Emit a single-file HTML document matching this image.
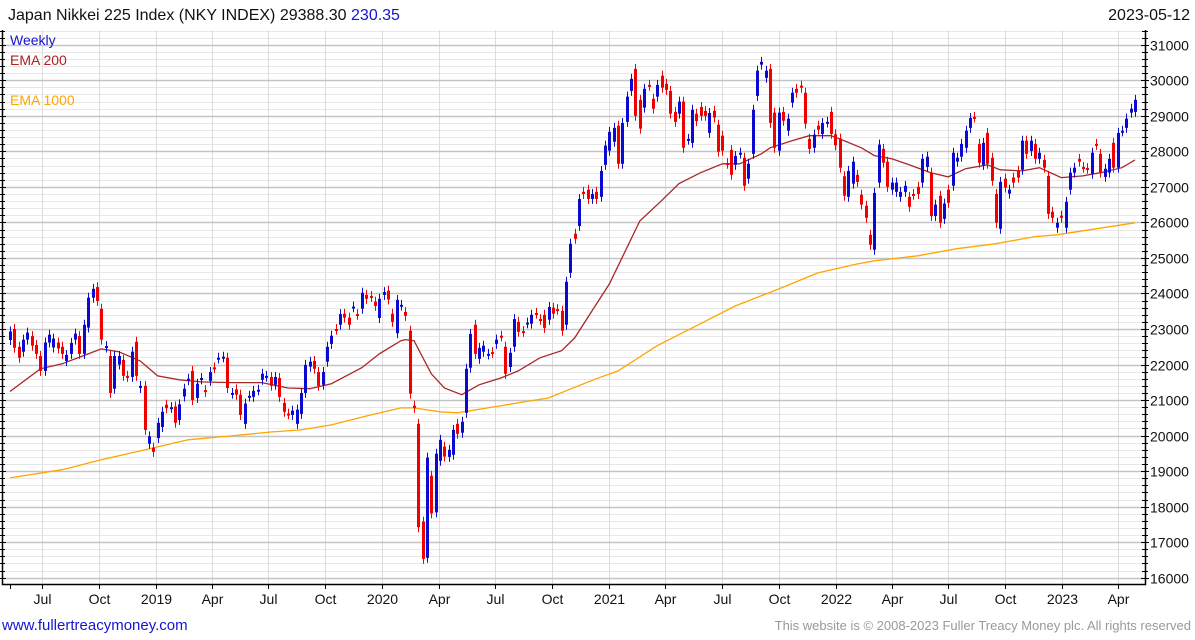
<!DOCTYPE html>
<html><head><meta charset="utf-8"><style>
html,body{margin:0;padding:0;background:#fff;}
body{width:1195px;height:640px;overflow:hidden;font-family:"Liberation Sans","DejaVu Sans",sans-serif;}
svg{display:block}
</style></head><body>
<svg id="chart" width="1195" height="640" viewBox="0 0 1195 640" xmlns="http://www.w3.org/2000/svg">
<rect x="0" y="0" width="1195" height="640" fill="#fff"/>
<g id="grid"></g>
<g id="emas"></g>
<g id="candles"></g>
<g id="axes"></g>
<text x="8" y="20" font-size="16" fill="#111">Japan Nikkei 225 Index (NKY INDEX) 29388.30 <tspan fill="#1515d0">230.35</tspan></text>
<text x="1190" y="20" font-size="16" fill="#111" text-anchor="end">2023-05-12</text>
<text x="10" y="45" font-size="14" fill="#1515d0">Weekly</text>
<text x="10" y="65" font-size="14" fill="#aa2222">EMA 200</text>
<text x="10" y="105" font-size="14" fill="#ffa500">EMA 1000</text>
<text x="2" y="630" font-size="15" fill="#1515d0">www.fullertreacymoney.com</text>
<text x="1191" y="630" font-size="13" fill="#999" text-anchor="end">This website is © 2008-2023 Fuller Treacy Money plc. All rights reserved</text>
</svg>
<script>
const opens=[22690,23000,22500,22360,22700,22800,22550,22240,21820,22620,22480,22620,22500,22100,22300,22700,22800,22300,23040,23880,24180,23570,22480,22240,21320,22000,22130,21680,21650,22640,21340,21400,19770,19660,19930,20240,20870,20780,20820,20440,21100,21560,21820,21060,21580,21280,21540,21920,22170,22200,22190,21180,21300,21150,20330,21100,21090,21270,21570,21660,21650,21430,21620,20920,20620,20580,20330,20610,21200,21940,22100,21790,21430,22080,22580,23000,23120,23430,23320,23610,23420,23570,23960,23930,23770,23310,23960,24080,23430,22880,23660,23480,22950,20840,20330,17580,16560,18870,17840,19290,19690,19400,19460,20330,20080,20640,21910,23120,22160,22360,22280,22350,22580,22810,22500,21930,22500,23200,22940,23160,23150,23450,23280,23400,23260,23600,23560,23510,23120,24580,25680,25900,26860,26920,26660,26860,26720,27620,28020,28270,28720,27650,28830,29700,30320,29450,29230,29870,29480,29540,30130,29900,29700,29110,29060,29400,28330,28240,29060,29250,29140,28520,29140,28750,28440,27670,28040,27620,27940,27820,27230,27930,29560,30440,30070,30320,29090,28020,29110,28580,29370,29760,29850,29650,28350,28100,28720,28490,28810,29110,28480,28360,27300,26720,27090,27340,26780,26470,25650,25230,27120,28070,27710,26920,26860,26720,26860,26720,26800,27000,27120,27560,27400,26180,26750,26100,26920,27030,27710,27850,28100,28660,28970,28210,27620,28520,27820,26800,25820,27230,26810,27260,27450,27480,28300,28010,28210,27790,27760,27310,26300,25850,26190,25850,26920,27400,27790,27560,27530,27370,28210,27930,27280,27400,28240,27540,28560,28660,29090,29110];
const closes=[22930,22470,22190,22700,22900,22530,22300,21820,22620,22840,22730,22450,22300,22270,22610,22870,22300,23120,23880,24130,23790,22700,22520,21200,22240,22240,21680,21650,22360,21680,21400,20160,19980,19540,20360,20670,20770,20800,20360,20880,21320,21600,21000,21460,21620,21230,21790,21900,22190,22220,21340,21200,21150,20580,20900,21120,21260,21290,21740,21680,21400,21650,21090,20670,20600,20700,20730,21200,21990,22080,21880,21400,21790,22500,22810,22980,23420,23320,23120,23630,23400,24020,23850,23900,23650,23850,24040,23830,23200,23820,23680,23370,21180,20780,17420,16530,19380,17810,19490,19880,19410,19600,20160,20050,20390,21880,22860,22300,22470,22530,22300,22330,22700,22790,21740,22330,23280,22920,22920,23180,23400,23430,23260,23030,23620,23430,23540,22950,24330,25400,25540,26660,26800,26660,26800,26660,27450,28160,28550,28660,27650,28800,29540,30040,29000,28640,29760,29850,29200,29870,29790,29730,29060,28830,29400,28100,28350,29170,28850,29000,29000,29080,28950,27990,28020,27650,27340,27870,27960,27030,27650,29170,30270,30520,30270,28800,28100,29090,28860,28920,29650,29650,29790,28780,28070,28470,28610,28800,28830,28490,28170,27540,26750,27450,27710,27140,26500,26130,25370,26830,28190,27680,27000,27120,27120,26860,27030,26440,26780,26800,27790,27850,26180,26500,25990,26530,26550,27960,27820,28210,28580,28940,28950,27680,28240,27650,27170,25990,27140,26980,26920,27120,27260,28300,27930,28300,27790,27960,27540,26240,26130,25990,26130,26580,27400,27540,27710,27540,27510,27960,28180,27400,27510,27790,27540,28520,28580,28920,29200,29450];
const ema200Weeks=[0,7,12,18,21,25,30,34,39,44,51,58,64,69,74,81,85,90,91,93,97,100,104,108,113,117,122,127,130,134,138,145,150,154,159,164,168,173,175,180,184,189,191,196,199,203,207,212,216,220,225,228,233,237,242,247,251,256,259];
const ema200Vals=[21240,21880,22020,22300,22440,22360,22100,21680,21570,21510,21490,21490,21340,21320,21460,21910,22300,22670,22700,22670,21740,21340,21150,21430,21620,21820,22190,22390,22750,23510,24270,26040,26610,27090,27400,27650,27650,27930,28100,28300,28440,28440,28350,28100,27880,27790,27620,27400,27280,27510,27620,27480,27450,27540,27260,27310,27400,27540,27760];
const ema1000Weeks=[0,12,21,30,41,51,60,67,74,83,90,93,99,103,110,117,124,128,135,140,149,158,167,176,186,195,199,209,218,227,236,241,250,259];
const ema1000Vals=[18810,19040,19320,19570,19880,19990,20100,20160,20300,20580,20780,20780,20670,20640,20780,20920,21060,21260,21600,21820,22530,23090,23650,24080,24580,24830,24920,25060,25260,25400,25600,25650,25820,25990];
const yTicks=[16000,17000,18000,19000,20000,21000,22000,23000,24000,25000,26000,27000,28000,29000,30000,31000];
const xTickLabels=["Jul","Oct","2019","Apr","Jul","Oct","2020","Apr","Jul","Oct","2021","Apr","Jul","Oct","2022","Apr","Jul","Oct","2023","Apr"];
const xTickDates=["2018-07-01","2018-10-01","2019-01-01","2019-04-01","2019-07-01","2019-10-01","2020-01-01","2020-04-01","2020-07-01","2020-10-01","2021-01-01","2021-04-01","2021-07-01","2021-10-01","2022-01-01","2022-04-01","2022-07-01","2022-10-01","2023-01-01","2023-04-01"];
const startDate="2018-05-11";

const NS="http://www.w3.org/2000/svg";
const L=2,R=1145,T=30,B=584;
const n=closes.length;
const step=(1135-10)/(n-1);
function xw(i){return 10+i*step;}
function xd(s){return xw((Date.parse(s)-Date.parse(startDate))/(7*864e5));}
function y(p){return 577.7-(p-16000)*0.03553;}
function mk(tag,attrs,parent){const e=document.createElementNS(NS,tag);for(const k in attrs)e.setAttribute(k,attrs[k]);parent.appendChild(e);return e;}
const grid=document.getElementById('grid'),axes=document.getElementById('axes'),cg=document.getElementById('candles'),eg=document.getElementById('emas');
for(let p=16000;p<=31400;p+=200){
  if(p%1000===0)continue;const yy=Math.round(y(p))+0.5;if(yy<T)continue;
  const l=mk('line',{x1:L,x2:R,y1:yy,y2:yy,stroke:'#e8e8e8','stroke-width':1},grid);
  
  
  for(const xx of [L,R]){const t=mk('line',{x1:xx-3,x2:xx+3,y1:yy,y2:yy,stroke:'#000','stroke-width':1},axes);
  
  }
}
xTickDates.forEach((d,i)=>{
  const xx=Math.round(xd(d))+0.5;
  const l=mk('line',{x1:xx,x2:xx,y1:T,y2:B,stroke:'#dcdcdc','stroke-width':1},grid);
  
  
  const t=mk('line',{x1:xx,x2:xx,y1:B,y2:B+5,stroke:'#000','stroke-width':1},axes);
  
  
  const tx=mk('text',{x:xx,y:604,'font-size':14,'text-anchor':'middle',fill:'#111'},axes);
  tx.textContent=xTickLabels[i];
  
  
});
yTicks.forEach(p=>{
  const yy=Math.round(y(p))+0.5;
  const l=mk('line',{x1:L,x2:R,y1:yy,y2:yy,stroke:'#c4c4c4','stroke-width':1.5},grid);
  
  
  for(const xx of [L,R]){const t=mk('line',{x1:xx-4,x2:xx+4,y1:yy,y2:yy,stroke:'#000','stroke-width':1},axes);
  
  }
  const tx=mk('text',{x:1150,y:yy+5,'font-size':14,fill:'#111'},axes);
  tx.textContent=p;
  
  
});
const st=mk('line',{x1:10.5,x2:10.5,y1:B,y2:B+5,stroke:'#000'},axes);


const fr=mk('path',{d:`M${L+0.5},${T} V${B+0.5} H${R+0.5} V${T}`,fill:'none',stroke:'#000','stroke-width':1.5},axes);


function emaLine(ws,vs,color,name){
  const pts=ws.map((w,i)=>xw(w).toFixed(1)+','+y(vs[i]).toFixed(1)).join(' ');
  const pl=mk('polyline',{points:pts,fill:'none',stroke:color,'stroke-width':1.3},eg);
  
  
}
emaLine(ema1000Weeks,ema1000Vals,'#ffa500','ema-1000-line');
emaLine(ema200Weeks,ema200Vals,'#a82828','ema-200-line');
for(let i=0;i<n;i++){
  const o=opens[i],c=closes[i],up=c>=o,col=up?'#0a0ad0':'#f00000';
  const xx=Math.round(xw(i));
  const hi=Math.max(o,c)+140,lo=Math.min(o,c)-140;
  const w=mk('line',{x1:xx+0.5,x2:xx+0.5,y1:y(hi),y2:y(lo),stroke:col,'stroke-width':1},cg);
  
  
  const top=y(Math.max(o,c)),h=Math.max(2,y(Math.min(o,c))-top);
  const r=mk('rect',{x:xx-1,y:top,width:3,height:h,fill:col},cg);
  
  
}
</script>
</body></html>
